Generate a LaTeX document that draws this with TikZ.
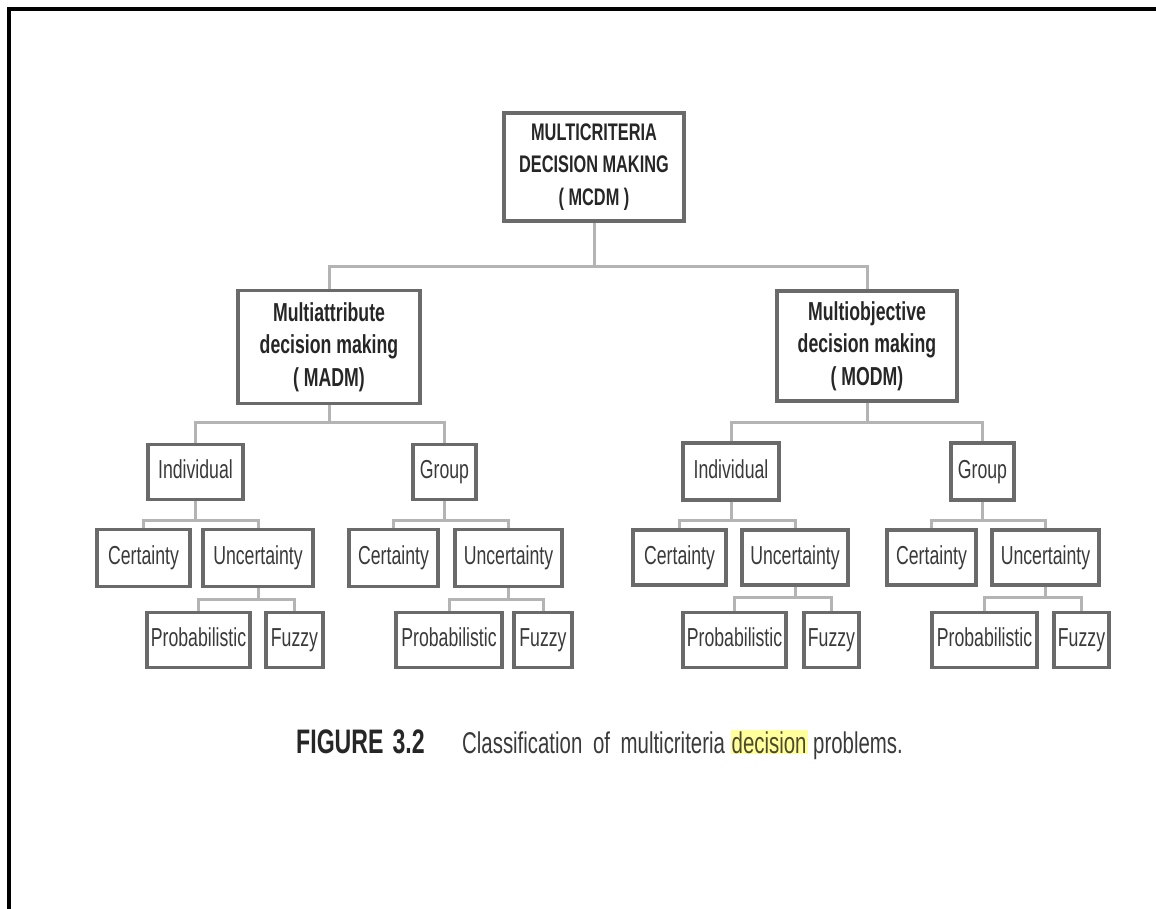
\documentclass[tikz,border=0pt]{standalone}
\usepackage{fontspec}
\setmainfont{Liberation Sans}[FakeStretch=0.68]
\definecolor{boxline}{HTML}{6A6A6A}
\definecolor{linkline}{HTML}{B4B4B4}
\definecolor{inkgrey}{HTML}{3A3A3A}
\definecolor{hilite}{HTML}{FFFF9C}
\begin{document}
\begin{tikzpicture}[x=1pt, y=-1pt,
    box/.style={draw=boxline, line width=3.2pt, text=inkgrey, inner sep=0pt},
    leaf/.style={box, font=\fontsize{26}{31}\selectfont, text height=18.5pt, text depth=5pt},
    headbox/.style={box, text=black!85, align=center,
        font=\fontsize{26}{32.5}\selectfont\bfseries},
    link/.style={draw=linkline, line width=3pt},
    sz/.style 2 args={minimum width=#1, minimum height=#2}]
    \useasboundingbox (0,0) rectangle (1156,909);
    % Page frame (top and left edge)
    \draw[line width=4pt] (9,909) -- (9,9) -- (1156,9);

    % Top of the tree
    \node[headbox, sz={180}{108}, font=\fontsize{24}{32.5}\selectfont\bfseries] (mcdm) at (594,167)
        {MULTICRITERIA\\DECISION MAKING\\( MCDM )};
    \node[headbox, sz={182}{113}] (madm) at (329,347) {Multiattribute\\decision making\\( MADM)};
    \node[headbox, sz={180}{110}] (modm) at (867,346) {Multiobjective\\decision making\\( MODM)};

    % MADM branch
    \node[leaf, sz={95}{55}]  (indA)   at (195.5,472) {Individual};
    \node[leaf, sz={63}{55}]  (grpA)   at (444.5,472) {Group};
    \node[leaf, sz={93}{57}]  (certAI) at (143.5,558) {Certainty};
    \node[leaf, sz={110}{57}] (uncAI)  at (258,558)   {Uncertainty};
    \node[leaf, sz={103}{55}] (probAI) at (198.5,640) {Probabilistic};
    \node[leaf, sz={57}{55}]  (fuzAI)  at (294.5,640) {Fuzzy};
    \node[leaf, sz={89}{57}]  (certAG) at (393.5,558) {Certainty};
    \node[leaf, sz={107}{57}] (uncAG)  at (508.5,558) {Uncertainty};
    \node[leaf, sz={106}{55}] (probAG) at (449,640)   {Probabilistic};
    \node[leaf, sz={58}{55}]  (fuzAG)  at (543,640)   {Fuzzy};

    % MODM branch
    \node[leaf, sz={96}{57}]  (indO)   at (731,471.5) {Individual};
    \node[leaf, sz={63}{57}]  (grpO)   at (982.5,471.5) {Group};
    \node[leaf, sz={93}{55}]  (certOI) at (679.5,557.5) {Certainty};
    \node[leaf, sz={106}{55}] (uncOI)  at (795,557.5) {Uncertainty};
    \node[leaf, sz={103}{55}] (probOI) at (734.5,640) {Probabilistic};
    \node[leaf, sz={55}{55}]  (fuzOI)  at (831.5,640) {Fuzzy};
    \node[leaf, sz={89}{55}]  (certOG) at (931.5,557.5) {Certainty};
    \node[leaf, sz={107}{55}] (uncOG)  at (1045.5,557.5) {Uncertainty};
    \node[leaf, sz={105}{55}] (probOG) at (984.5,640) {Probabilistic};
    \node[leaf, sz={55}{55}]  (fuzOG)  at (1081.5,640) {Fuzzy};

    % Elbow connectors: parent / left child / right child / drop to bus
    \foreach \p/\a/\b/\d in {mcdm/madm/modm/44, madm/indA/grpA/17, modm/indO/grpO/20,
        indA/certAI/uncAI/19, grpA/certAG/uncAG/19, uncAI/probAI/fuzAI/11, uncAG/probAG/fuzAG/11,
        indO/certOI/uncOI/19, grpO/certOG/uncOG/19, uncOI/probOI/fuzOI/11, uncOG/probOG/fuzOG/11}{
        \draw[link] (\p.south) -- ++(0,\d) -| (\a.north);
        \draw[link] (\p.south) -- ++(0,\d) -| (\b.north);
    }

    % Caption
    \node[anchor=base west, text=black!85, inner sep=0pt, font=\fontsize{34}{34}\selectfont\bfseries] (fignum) at (296,753)
        {FIGURE\hspace{9pt}3.2};
    \node[anchor=base west, text=inkgrey, inner sep=0pt, font=\fontsize{30}{30}\selectfont] (capt) at (462,753)
        {Classification\hspace{5pt} of\hspace{5pt} multicriteria {\setlength\fboxsep{1pt}\colorbox{hilite}{\textcolor{black!60!olive}{decision}}} problems.};
\end{tikzpicture}
\end{document}
